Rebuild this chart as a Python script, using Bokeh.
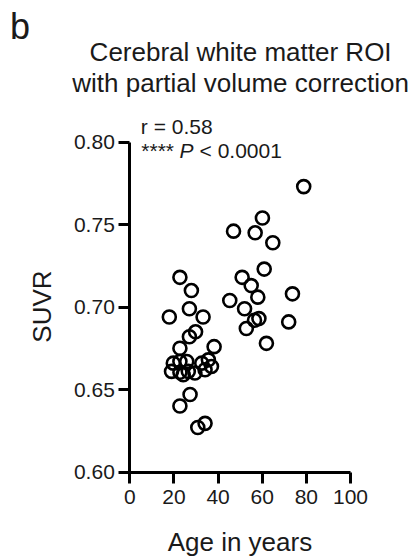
import math
from bokeh.plotting import figure
from bokeh.models import Range1d, FixedTicker, PrintfTickFormatter, Label
from bokeh.embed import file_html
from bokeh.resources import INLINE

# ---- data ----
age = [78.8, 60.1, 47.0, 56.8, 64.8, 60.9, 22.7, 50.9, 55.0, 27.9,
       58.0, 73.7, 45.3, 27.0, 52.0, 17.9, 33.2, 56.5, 58.5, 72.0,
       52.8, 61.9, 29.8, 27.0, 22.7, 38.2, 19.7, 22.7, 25.8, 18.9,
       22.7, 26.5, 29.5, 32.6, 35.6, 34.1, 37.0, 24.2, 27.3, 22.7,
       34.1, 30.8]
suvr = [0.773, 0.754, 0.746, 0.745, 0.739, 0.723, 0.718, 0.718, 0.713, 0.710,
        0.706, 0.708, 0.704, 0.699, 0.699, 0.694, 0.694, 0.692, 0.693, 0.691,
        0.687, 0.678, 0.685, 0.682, 0.675, 0.676, 0.666, 0.667, 0.667, 0.661,
        0.6605, 0.661, 0.660, 0.666, 0.668, 0.662, 0.664, 0.659, 0.647, 0.640,
        0.6295, 0.627]
x_ticks = [0, 20, 40, 60, 80, 100]
y_ticks = [0.60, 0.65, 0.70, 0.75, 0.80]
title_lines = ["Cerebral white matter ROI", "with partial volume correction"]
panel_letter = "b"
x_label = "Age in years"
y_label = "SUVR"
stat_r = "r = 0.58"
stat_stars = "****"
stat_p = "P"
stat_p_rest = "< 0.0001"

FONT = "Liberation Sans"
W, H = 412, 558

p = figure(width=W, height=H, output_backend="svg", toolbar_location=None,
           x_range=Range1d(-58.6, 128.1), y_range=Range1d(0.5476, 0.8858),
           min_border_left=0, min_border_right=0,
           min_border_top=0, min_border_bottom=0)
p.outline_line_color = None
p.xgrid.visible = False
p.ygrid.visible = False
p.background_fill_color = "white"
p.border_fill_color = "white"

for ax in (p.xaxis[0], p.yaxis[0]):
    ax.axis_line_width = 3
    ax.axis_line_color = "black"
    ax.major_tick_line_width = 3
    ax.major_tick_line_color = "black"
    ax.major_tick_in = 0
    ax.major_tick_out = 11
    ax.minor_tick_line_color = None
    ax.major_label_text_font = FONT
    ax.major_label_text_font_size = "21px"
    ax.major_label_text_color = "#1a1a1a"

p.xaxis[0].ticker = FixedTicker(ticks=x_ticks)
p.xaxis[0].bounds = (0, 100)
p.xaxis[0].fixed_location = 0.60
p.xaxis[0].major_label_standoff = 7
p.yaxis[0].ticker = FixedTicker(ticks=y_ticks)
p.yaxis[0].bounds = (0.60, 0.80)
p.yaxis[0].fixed_location = 0
p.yaxis[0].formatter = PrintfTickFormatter(format="%.2f")
p.yaxis[0].major_label_standoff = 4

p.scatter(age, suvr, marker="circle", size=13, line_width=2.6,
          line_color="black", fill_alpha=0)

def lab(text, x, y, size, align="left", style="normal", angle=0):
    p.add_layout(Label(x=x, y=y, text=text, text_font=FONT, text_font_size=size,
                       text_align=align, text_baseline="middle", text_font_style=style,
                       text_color="#1a1a1a", angle=angle))

lab(panel_letter, -54.3, 0.8701, "36px")
lab(title_lines[0], 50.2, 0.8548, "26px", align="center")
lab(title_lines[1], 50.2, 0.8355, "26px", align="center")
lab(stat_r, 5.0, 0.8094, "21px")
lab(stat_stars, 5.2, 0.7948, "21px")
lab(stat_p, 22.5, 0.7948, "21px", style="italic")
lab(stat_p_rest, 31.6, 0.7948, "21px")
lab(x_label, 49.9, 0.5573, "26px", align="center")
lab(y_label, -40.0, 0.7003, "26px", align="center", angle=math.pi / 2)

open("out.html", "w").write(file_html(p, INLINE))
